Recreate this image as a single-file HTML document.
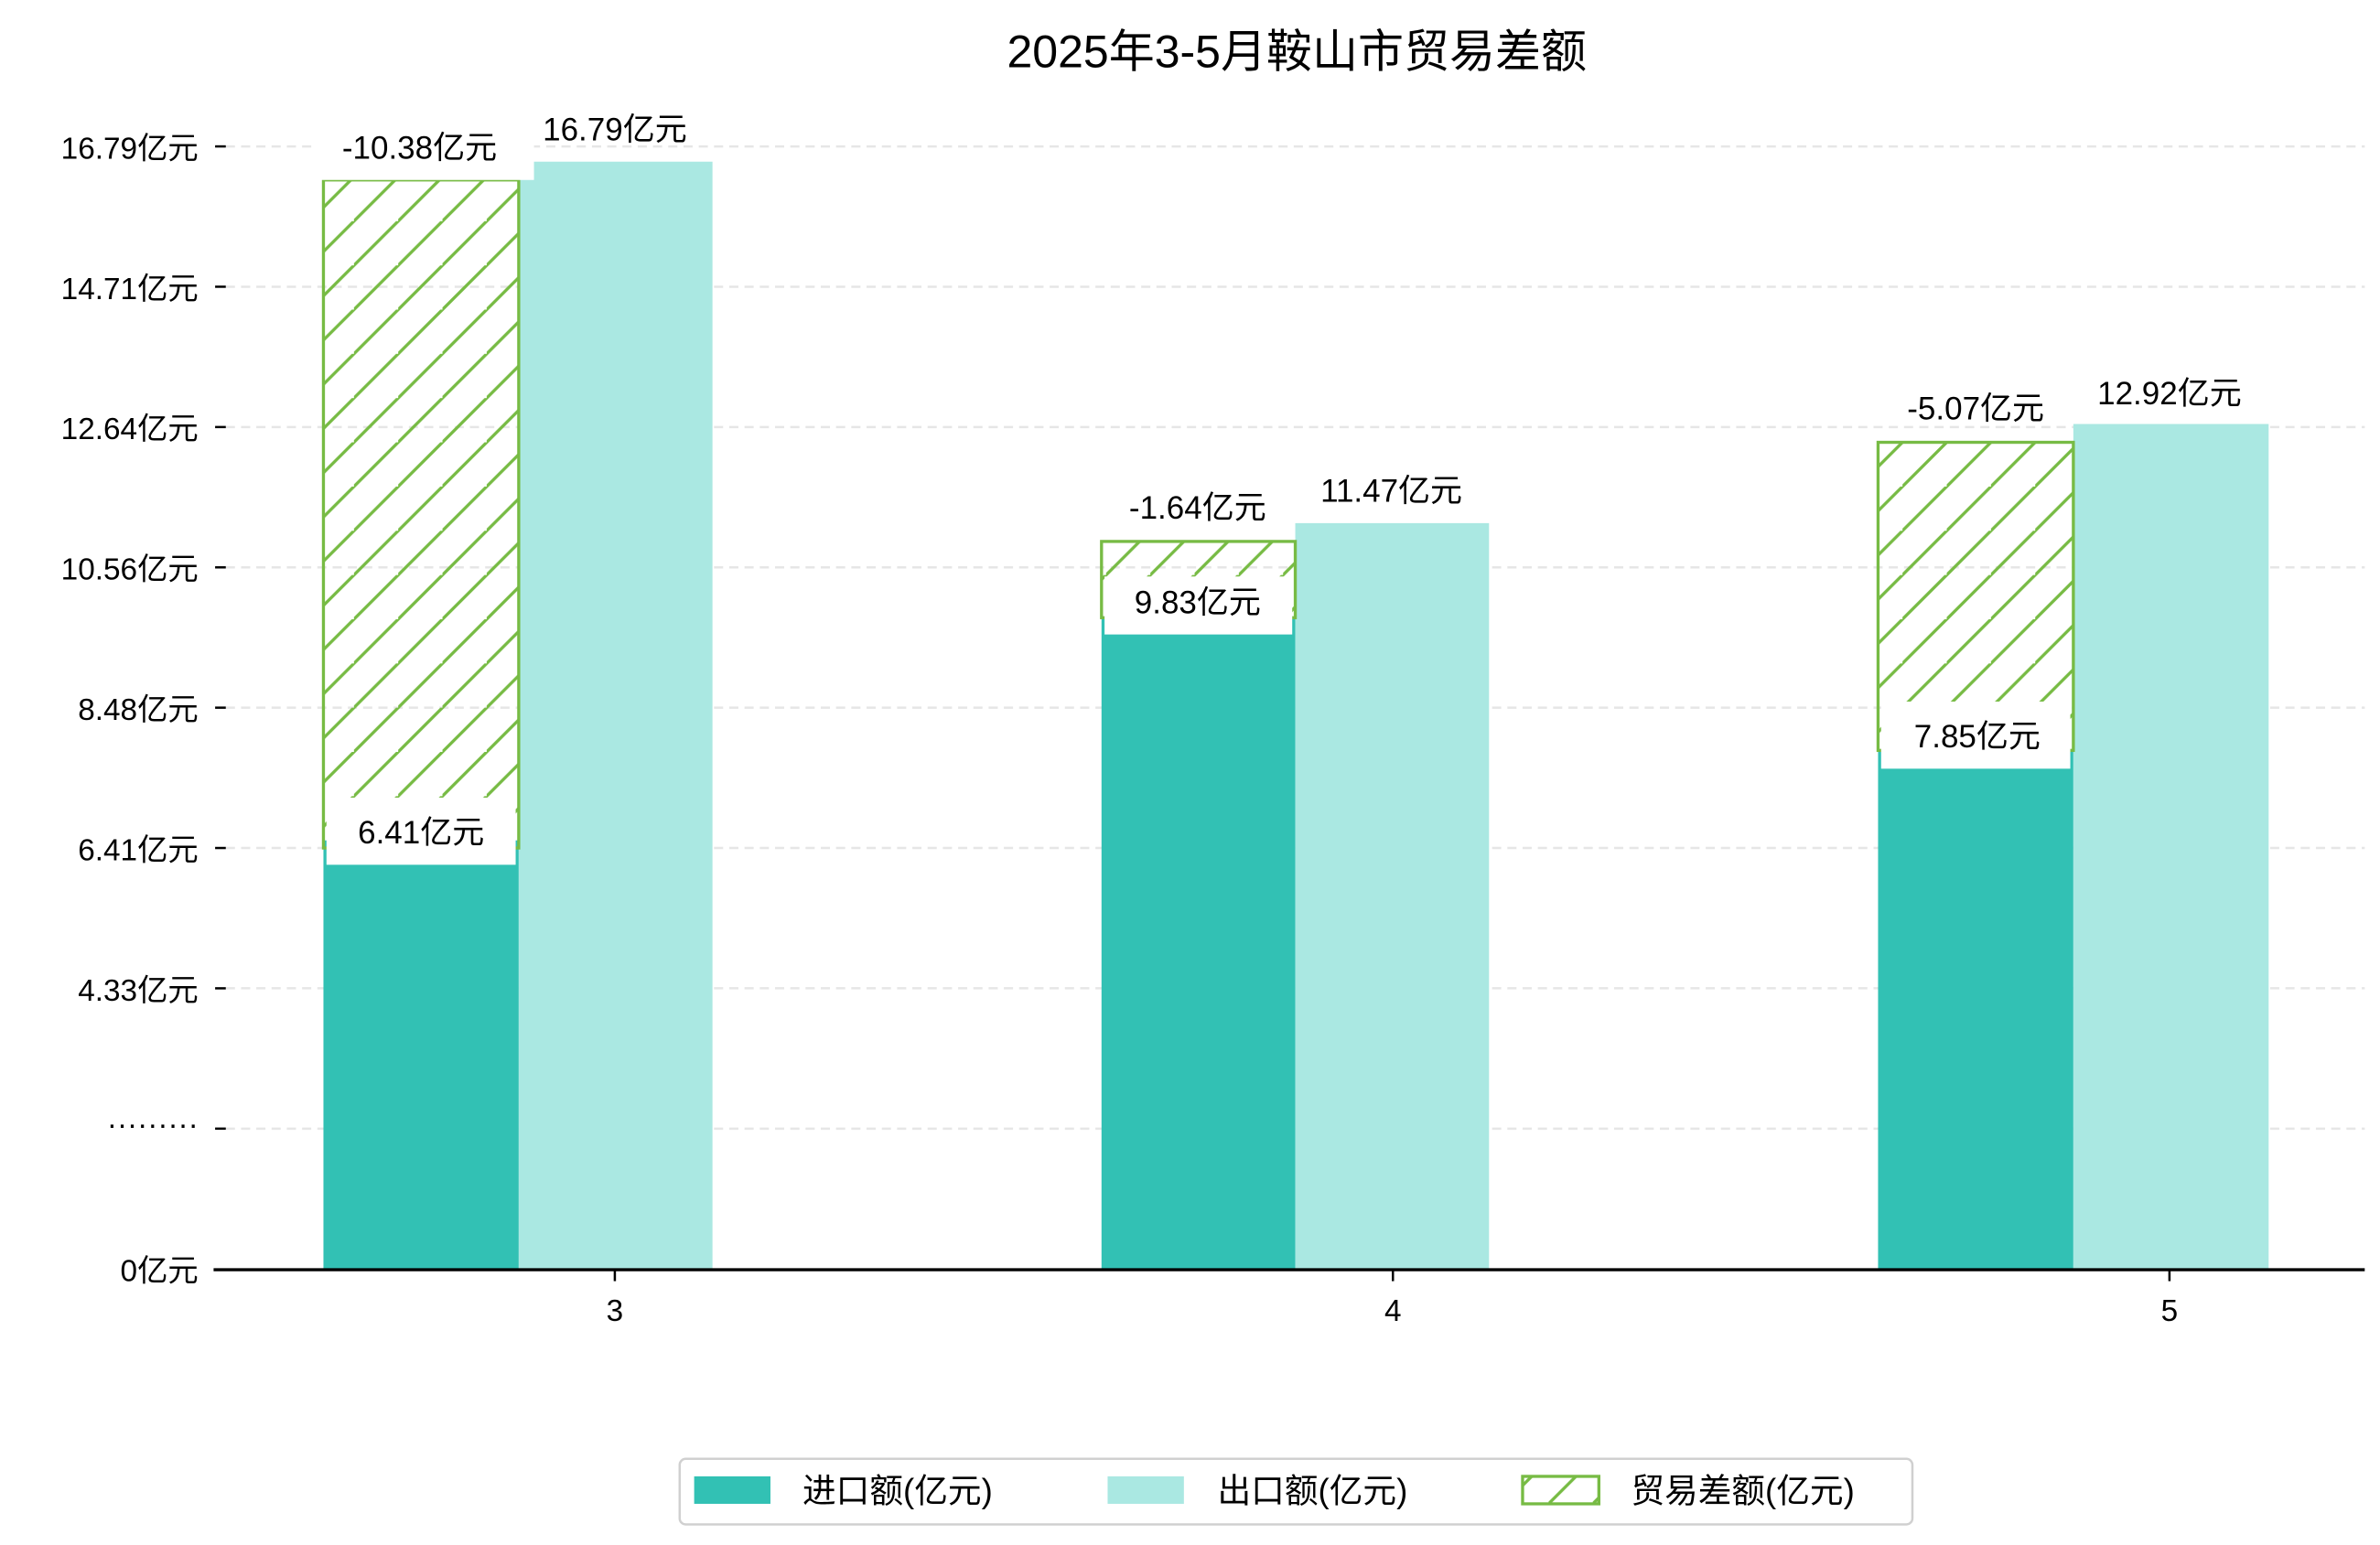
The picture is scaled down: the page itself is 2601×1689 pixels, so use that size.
<!DOCTYPE html>
<html><head><meta charset="utf-8"><style>
html,body{margin:0;padding:0;background:#fff;}
svg{display:block;}
text{font-family:"Liberation Sans","Noto Sans CJK SC",sans-serif;fill:#000;}
</style></head><body>
<svg width="2601" height="1689" viewBox="0 0 1560 1013" preserveAspectRatio="none" xmlns="http://www.w3.org/2000/svg">
<defs>
<pattern id="h" patternUnits="userSpaceOnUse" width="29" height="29">
<path d="M-2,31 L31,-2 M-31,31 L2,-2 M27,60 L60,27" stroke="#77bb44" stroke-width="2"/>
</pattern>
</defs>
<text x="850" y="44" font-size="30" text-anchor="middle">2025年3-5月鞍山市贸易差额</text>
<g stroke="#e6e6e6" stroke-width="1.5" stroke-dasharray="6,4">
<line x1="148" x2="1550" y1="96" y2="96"/><line x1="148" x2="1550" y1="188" y2="188"/>
<line x1="148" x2="1550" y1="280" y2="280"/><line x1="148" x2="1550" y1="372" y2="372"/>
<line x1="148" x2="1550" y1="464" y2="464"/><line x1="148" x2="1550" y1="556" y2="556"/>
<line x1="148" x2="1550" y1="648" y2="648"/><line x1="148" x2="1550" y1="740" y2="740"/>
</g>
<g stroke="#000" stroke-width="1.5">
<line x1="141" x2="148" y1="96" y2="96"/><line x1="141" x2="148" y1="188" y2="188"/>
<line x1="141" x2="148" y1="280" y2="280"/><line x1="141" x2="148" y1="372" y2="372"/>
<line x1="141" x2="148" y1="464" y2="464"/><line x1="141" x2="148" y1="556" y2="556"/>
<line x1="141" x2="148" y1="648" y2="648"/><line x1="141" x2="148" y1="740" y2="740"/>
</g>
<g font-size="20" text-anchor="end">
<text x="130" y="104">16.79亿元</text><text x="130" y="196">14.71亿元</text>
<text x="130" y="288">12.64亿元</text><text x="130" y="380">10.56亿元</text>
<text x="130" y="472">8.48亿元</text><text x="130" y="564">6.41亿元</text>
<text x="130" y="656">4.33亿元</text><text x="130" y="744">·········</text>
<text x="130" y="840">0亿元</text>
</g>
<!-- bars -->
<rect x="212" y="551" width="128" height="281" fill="#32c1b4"/>
<rect x="340" y="106" width="127" height="726" fill="#aae8e2"/>
<rect x="722" y="405" width="127" height="427" fill="#32c1b4"/>
<rect x="849" y="343" width="127" height="489" fill="#aae8e2"/>
<rect x="1231" y="492" width="128" height="340" fill="#32c1b4"/>
<rect x="1359" y="278" width="128" height="554" fill="#aae8e2"/>
<rect x="212" y="118" width="128" height="438" fill="url(#h)" stroke="#77bb44" stroke-width="2"/>
<rect x="722" y="355" width="127" height="50" fill="url(#h)" stroke="#77bb44" stroke-width="2"/>
<rect x="1231" y="290" width="128" height="202" fill="url(#h)" stroke="#77bb44" stroke-width="2"/>
<!-- label boxes -->
<g fill="#fff">
<rect x="205" y="78" width="145" height="40"/><rect x="214" y="523" width="124" height="44"/>
<rect x="724" y="378" width="123" height="38"/><rect x="1233" y="460" width="124" height="44"/>
</g>
<g font-size="21" text-anchor="middle">
<text x="275" y="104">-10.38亿元</text><text x="403" y="92">16.79亿元</text>
<text x="276" y="553">6.41亿元</text>
<text x="785" y="340">-1.64亿元</text><text x="912" y="329">11.47亿元</text>
<text x="785" y="402">9.83亿元</text>
<text x="1295" y="275">-5.07亿元</text><text x="1422" y="265">12.92亿元</text>
<text x="1296" y="490">7.85亿元</text>
</g>
<line x1="140" x2="1550" y1="832.5" y2="832.5" stroke="#000" stroke-width="2"/>
<g stroke="#000" stroke-width="1.5">
<line x1="403" x2="403" y1="832" y2="840"/><line x1="913" x2="913" y1="832" y2="840"/><line x1="1422" x2="1422" y1="832" y2="840"/>
</g>
<g font-size="20" text-anchor="middle">
<text x="403" y="866">3</text><text x="913" y="866">4</text><text x="1422" y="866">5</text>
</g>
<!-- legend -->
<rect x="445.5" y="956.5" width="808" height="43" rx="4" fill="#fff" stroke="#d0d0d0" stroke-width="1.5"/>
<rect x="455" y="968" width="50" height="18" fill="#32c1b4"/>
<rect x="726" y="968" width="50" height="18" fill="#aae8e2"/>
<rect x="998" y="968" width="50" height="18" fill="url(#h)" stroke="#77bb44" stroke-width="2"/>
<g font-size="22">
<text x="526" y="985">进口额(亿元)</text><text x="798" y="985">出口额(亿元)</text><text x="1069" y="985">贸易差额(亿元)</text>
</g>
</svg>
</body></html>
